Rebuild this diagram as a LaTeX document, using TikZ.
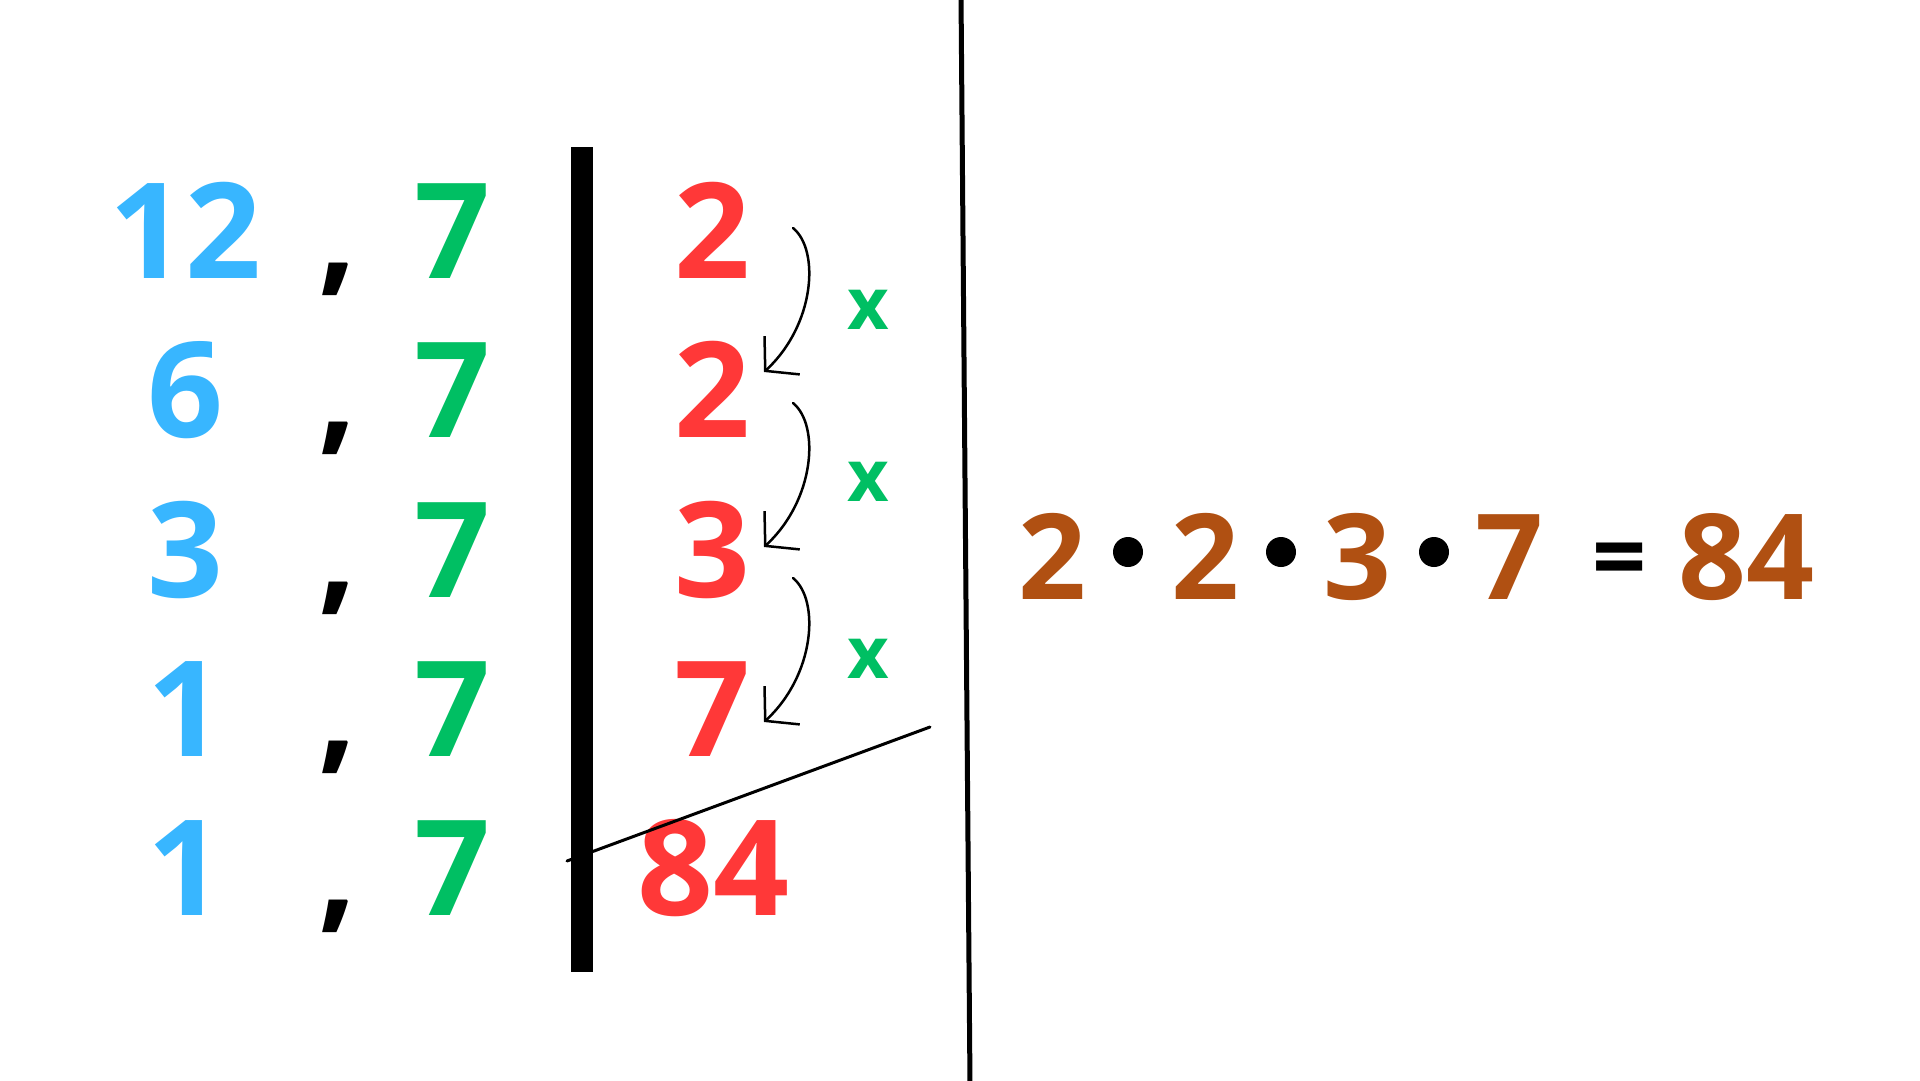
\documentclass[tikz,border=0pt]{standalone}
\usepackage{fontspec}
\setmainfont{Open Sans}
\usetikzlibrary{arrows.meta}
\definecolor{skyblue}{RGB}{56,182,255}
\definecolor{leafgreen}{RGB}{0,191,99}
\definecolor{brightred}{RGB}{255,56,56}
\definecolor{rust}{RGB}{176,80,18}

\begin{document}
\begin{tikzpicture}[x=1pt,y=-1pt,
    big/.style={anchor=base,inner sep=0pt,font=\fontsize{133}{133}\selectfont\bfseries},
    prod/.style={anchor=base,inner sep=0pt,text=rust,font=\fontsize{119}{119}\selectfont\bfseries},
    times/.style={inner sep=0pt,text=leafgreen,font=\fontsize{72}{72}\selectfont\bfseries},
    mdot/.style={circle,fill=black,inner sep=0pt,minimum size=30pt},
    arr/.style={line width=2.5pt,line cap=round,line join=round,-{Straight Barb[length=23pt,width=52pt]}}]
      \fill[white] (0,0) rectangle (1920,1080);
      \useasboundingbox (0,0) rectangle (1920,1080);
      % left column
      \node[big,text=skyblue] (l1) at (185,278) {12};
      \node[big,text=skyblue] (l2) at (185,437) {6};
      \node[big,text=skyblue] (l3) at (185,597) {3};
      \node[big,text=skyblue] (l4) at (185,756) {1};
      \node[big,text=skyblue] (l5) at (185,915) {1};
      \node[big] (c1) at (338,278) {,};
      \node[big] (c2) at (338,437) {,};
      \node[big] (c3) at (338,597) {,};
      \node[big] (c4) at (338,756) {,};
      \node[big] (c5) at (338,915) {,};
      \node[big,text=leafgreen] (g1) at (452,278) {7};
      \node[big,text=leafgreen] (g2) at (452,437) {7};
      \node[big,text=leafgreen] (g3) at (452,597) {7};
      \node[big,text=leafgreen] (g4) at (452,756) {7};
      \node[big,text=leafgreen] (g5) at (452,915) {7};
      % divisors
      \node[big,text=brightred] (r1) at (712,278) {2};
      \node[big,text=brightred] (r2) at (712,437) {2};
      \node[big,text=brightred] (r3) at (712,597) {3};
      \node[big,text=brightred] (r4) at (712,756) {7};
      \node[big,text=brightred] (r5) at (713,915) {84};
      \fill (571,147) rectangle (593,972);
      \draw[line width=5pt] (961,-5) -- (970,1085);
      \draw[line width=3pt,line cap=round] (567,861) -- (930,727);
      % arrows
      \coordinate (a1) at (793,228);
      \coordinate (b1) at (764,372);
      \coordinate (a2) at (793,403);
      \coordinate (b2) at (764,547);
      \coordinate (a3) at (793,578);
      \coordinate (b3) at (764,722);
      \draw[arr] (a1) .. controls +(27,22) and +(51,-47) .. (b1);
      \draw[arr] (a2) .. controls +(27,22) and +(51,-47) .. (b2);
      \draw[arr] (a3) .. controls +(27,22) and +(51,-47) .. (b3);
      \node[times] (x1) at (868,310) {x};
      \node[times] (x2) at (868,482) {x};
      \node[times] (x3) at (868,659) {x};
      % product
      \node[prod] (p1) at (1052,599) {2};
      \node[mdot] (d1) at (1128,552) {};
      \node[prod] (p2) at (1205,599) {2};
      \node[mdot] (d2) at (1281,552) {};
      \node[prod] (p3) at (1357,599) {3};
      \node[mdot] (d3) at (1434,552) {};
      \node[prod] (p4) at (1509,599) {7};
      \node[prod,text=black,font=\fontsize{95}{95}\selectfont\bfseries] (eq) at (1620,590) {=};
      \node[prod] (p5) at (1746,599) {84};
    \end{tikzpicture}
\end{document}
